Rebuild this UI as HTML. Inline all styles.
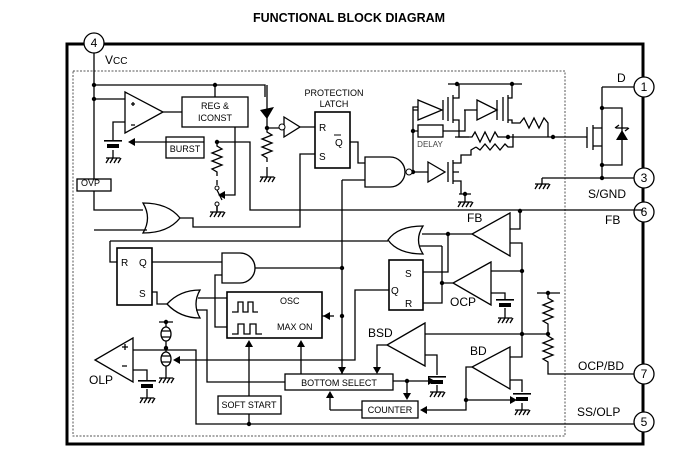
<!DOCTYPE html>
<html><head><meta charset="utf-8"><style>
html,body{margin:0;padding:0;background:#fff;}
svg{display:block;font-family:"Liberation Sans",sans-serif;}
</style></head><body>
<svg width="697" height="455" viewBox="0 0 697 455" xmlns="http://www.w3.org/2000/svg">
<defs>
<g id="gnd" fill="none" stroke="#000" stroke-width="1.3"><path d="M-7 0H7M-4 0l-3 5M0 0l-3 5M4 0l-3 5M8 0l-3 5"/></g>
<g id="cap"><rect x="-9" y="-5" width="18" height="1.6" fill="#000"/><rect x="-6" y="-1" width="12" height="4" fill="#000"/></g>
</defs>
<text x="349" y="22" text-anchor="middle" font-size="12.5" font-weight="bold">FUNCTIONAL BLOCK DIAGRAM</text>
<g fill="none" stroke="#000">
<!-- outer box -->
<rect x="67" y="44" width="576" height="400" stroke-width="3"/>
<rect x="73" y="71" width="492" height="365" stroke-width="1" stroke-dasharray="2,1.5" stroke="#555"/>
</g>
<g fill="#fff" stroke="#000" stroke-width="1.3">
<circle cx="94" cy="43" r="10"/><circle cx="644" cy="87" r="10"/><circle cx="644" cy="178" r="10"/>
<circle cx="644" cy="212" r="10"/><circle cx="644" cy="374" r="10"/><circle cx="644" cy="422" r="10"/>
</g>
<g font-size="12" text-anchor="middle">
<text x="94" y="47">4</text><text x="644" y="91">1</text><text x="644" y="182">3</text>
<text x="644" y="216">6</text><text x="644" y="378">7</text><text x="644" y="426">5</text>
</g>
<g font-size="12">
<text x="105" y="64">V<tspan font-size="10">CC</tspan></text>
<text x="617" y="82">D</text><text x="588" y="198">S/GND</text><text x="605" y="224">FB</text>
<text x="578" y="370">OCP/BD</text><text x="577" y="416">SS/OLP</text>
<text x="81" y="186" font-size="9">OVP</text>
<text x="89" y="384">OLP</text><text x="450" y="306">OCP</text><text x="467" y="222">FB</text>
<text x="368" y="337">BSD</text><text x="470" y="355">BD</text>
</g>
<g font-size="9" text-anchor="middle">
<text x="334" y="96">PROTECTION</text><text x="334" y="107">LATCH</text>
<text x="215" y="109">REG &amp;</text><text x="215" y="121">ICONST</text>
<text x="185" y="152">BURST</text>
<text x="430" y="147" fill="#444" font-size="8">DELAY</text>
<text x="339" y="386">BOTTOM SELECT</text>
<text x="390" y="413">COUNTER</text>
<text x="249" y="408">SOFT START</text>
</g>
<g font-size="10">
<text x="319" y="131">R</text><text x="335" y="146">Q</text><text x="319" y="160">S</text>
<text x="121" y="266">R</text><text x="139" y="266">Q</text><text x="139" y="297">S</text>
<text x="405" y="277">S</text><text x="391" y="294">Q</text><text x="405" y="307">R</text>
<text x="280" y="304" font-size="9">OSC</text><text x="277" y="330" font-size="9">MAX ON</text>
</g>
<path d="M334 135h7" stroke="#000"/>
<g fill="none" stroke="#000" stroke-width="1.3">
<!-- boxes -->
<rect x="182" y="97" width="66" height="30"/>
<rect x="166" y="137" width="38" height="21"/>
<rect x="77" y="179" width="34" height="12"/>
<rect x="315" y="112" width="35" height="56" stroke-width="1.6"/>
<rect x="418" y="125" width="25" height="12"/>
<rect x="117" y="248" width="35" height="57" stroke-width="1.6"/>
<rect x="389" y="260" width="34" height="50" stroke-width="1.6"/>
<rect x="227" y="292" width="95" height="46" stroke-width="1.6"/>
<rect x="285" y="374" width="108" height="16"/>
<rect x="362" y="401" width="56" height="17"/>
<rect x="218" y="396" width="63" height="18"/>
<!-- osc waveforms -->
<path d="M232 312h6v-10h5v10h5v-10h5v10h5"/>
<path d="M232 334h6v-10h6v10h6v-10h6v10h6"/>
<!-- Vcc rails -->
<path d="M94 53V179M94 191V210H143M94 85H265V97M94 99H125M215 85V97"/>
<!-- main opamp -->
<path d="M125 92L163 112L125 133Z"/>
<path d="M163 112H182M113 133V122H125M113 133V140"/>
<path d="M131 104h4M133 102v4M131 125h4"/>
<path d="M204 142H132M217 142H250V210H643" />
<path d="M235 127V195H222"/>
<path d="M217 142v4l5 3l-10 4l10 4l-10 4l10 4l-10 4l5 3v4"/>
<path d="M217 180v5M217 190l5 10M217 206v5"/>
<!-- zener -->
<path d="M267 85V128M267 128v4l5 3l-10 4l10 4l-10 4l10 4l-10 4l5 3v4M267 167V177"/>
<path d="M267 128H279M300 127H315"/>
<path d="M284 117L300 127L284 137Z"/>
<!-- OR1 -->
<path d="M143 203Q168 203 180 218Q168 233 143 233Q152 218 143 203Z"/>
<path d="M94 230H147M180 218H193V227H300V154H315"/>
<!-- Qbar to NAND -->
<path d="M350 142H358V163H365M342 180H365M342 180V374"/>
<path d="M365 157H390A15 15 0 0 1 390 187H365Z"/>
<path d="M412 172H428M413 172V107H418M413 131H418"/>
<path d="M428 162L445 172L428 182Z"/>
<path d="M448 162v20M453 160v24M453 172h6M453 163h8v-8h10v-5l5-3M453 181h8v13M459 194h12"/>
<path d="M476 147l4 3l5-6l5 6l5-6l5 6l5-6l3 3h5v-13"/>
<!-- upper drivers -->
<path d="M418 100L442 110L418 120Z M443 100v20M413 110H418M448 84H522"/>
<path d="M448 97v24M453 95v28M453 98h6v-14M453 120h6v17h10"/>
<path d="M477 100L497 110L477 120Z M497 100v20M464 110H477M443 131H465V110"/>
<path d="M503 97v24M508 95v28M508 98h4v-14M508 120h4v3h8l4 -5l5 10l5-10l5 10l5-10l4 5v14"/>
<path d="M455 137H472l3-5l5 10l5-10l5 10l5-10l3 5H565"/>
<path d="M565 137H587M587 127v21M593 125v25M593 128h9v-20M593 146h9v19M602 87H634M602 87V178M602 108H622V165H602M542 178H634M542 178V184"/>
<path d="M615 128l4 -3M629 128l-4 3"/>
<path d="M616 128h12"/>
<!-- lower logic -->
<path d="M110 241H388M110 241V262H117"/>
<path d="M423 226Q398 226 388 240Q398 254 423 254Q414 240 423 226Z"/>
<path d="M472 234H422M448 234V272H423M442 246H419M442 246V303H423M453 283H442"/>
<path d="M510 213L472 234L510 256Z"/>
<path d="M510 229H520V211M510 243H522V357H510"/>
<path d="M491 262L453 283L491 305Z"/>
<path d="M491 271H522M491 293H505V299M505 308V318"/>
<!-- RS1, AND, OR3 -->
<path d="M152 262H222M222 253H240A15 15 0 0 1 240 283H222Z"/>
<path d="M255 268H342M222 275H215V327H227"/>
<path d="M152 292H157V304H167"/>
<path d="M200 290Q180 290 167 304Q180 318 200 318Q192 304 200 290Z"/>
<path d="M198 298H227M196 310H207V382H285"/>
<path d="M322 316H334"/>
<!-- RS2 Q -->
<path d="M389 290H355V360H180"/>
<!-- OLP -->
<path d="M133 338L95 360L133 382Z"/>
<path d="M133 350H196V424H634M133 370H147V380M147 389V398"/>
<path d="M122 347h6M125 344v6M122 366h5"/>
<path d="M166 322V327M159 322h14M166 341V352M166 366V378"/>
<ellipse cx="166" cy="334" rx="5" ry="7"/><ellipse cx="166" cy="359" rx="5" ry="7"/>
<path d="M162 331h8M162 337h8M162 356h8M162 362h8"/>
<!-- BSD, BD, divider -->
<path d="M548 293V298l5 3l-10 4l10 4l-10 4l10 4l-10 4l5 3v12l5 3l-10 4l10 4l-10 4l10 4l-10 4l5 3V374H634M537 293H560"/>
<path d="M425 323L387 345L425 366Z M425 334H548M425 355H437V375M437 385V392"/>
<path d="M387 345H377V370"/>
<path d="M510 347L472 367L510 389Z M510 380H522V392M522 403V410"/>
<path d="M472 367H466V410H425M466 400H510"/>
<path d="M393 381H428M407 381V396M330 410H362M330 410V396"/>
<path d="M249 396V345M249 414V424M301 374V345M342 374V372"/>
</g>
<!-- arrowheads -->
<g fill="#000">
<path d="M128 142l7-4v8z"/><path d="M218 195l7-4v8z"/>
<path d="M173 360l7-4v8z"/><path d="M323 316l7-4v8z"/>
<path d="M249 340l-4 7h8z"/><path d="M301 340l-4 7h8z"/>
<path d="M330 391l-4 7h8z"/><path d="M342 374l-4-7h8z"/><path d="M377 374l-4-7h8z"/>
<path d="M407 400l-4-7h8z"/><path d="M420 410l7-4v8z"/>
<path d="M435 381l-7-4v8z"/><path d="M517 400l-7-4v8z"/>
<path d="M260 110l14-3l-7 12z"/><path d="M622 130l-6 10h12z"/>
</g>
<g fill="#000">
<circle cx="94" cy="85" r="2.2"/><circle cx="94" cy="99" r="2.2"/><circle cx="215" cy="85" r="2.2"/>
<circle cx="217" cy="142" r="2.2"/><circle cx="267" cy="128" r="2.2"/>
<circle cx="413" cy="172" r="2.2"/><circle cx="413" cy="131" r="2.2"/>
<circle cx="457" cy="84" r="2.2"/><circle cx="512" cy="84" r="2.2"/>
<circle cx="508" cy="137" r="2.2"/><circle cx="553" cy="137" r="2.2"/>
<circle cx="602" cy="108" r="2.2"/><circle cx="602" cy="165" r="2.2"/><circle cx="602" cy="178" r="2.2"/>
<circle cx="465" cy="194" r="2.2"/><circle cx="520" cy="211" r="2.2"/>
<circle cx="448" cy="234" r="2.2"/><circle cx="442" cy="283" r="2.2"/>
<circle cx="522" cy="271" r="2.2"/><circle cx="522" cy="334" r="2.2"/><circle cx="548" cy="334" r="2.2"/><circle cx="548" cy="293" r="2.2"/>
<circle cx="342" cy="268" r="2.2"/><circle cx="342" cy="316" r="2.2"/>
<circle cx="166" cy="322" r="2.2"/><circle cx="166" cy="348" r="2.2"/>
<circle cx="249" cy="424" r="2.2"/><circle cx="407" cy="381" r="2.2"/><circle cx="466" cy="400" r="2.2"/>
</g>
<g fill="#fff" stroke="#000" stroke-width="1">
<circle cx="217" cy="188" r="2"/><circle cx="217" cy="204" r="2"/><circle cx="282" cy="127" r="3"/><circle cx="409" cy="172" r="3"/>
</g>
<use href="#cap" x="113" y="145"/><use href="#cap" x="505" y="304"/><use href="#cap" x="147" y="385"/>
<use href="#cap" x="437" y="381"/><use href="#cap" x="522" y="398"/>
<use href="#gnd" x="113" y="158"/><use href="#gnd" x="217" y="212"/><use href="#gnd" x="267" y="177"/>
<use href="#gnd" x="465" y="202"/><use href="#gnd" x="542" y="184"/><use href="#gnd" x="505" y="318"/>
<use href="#gnd" x="166" y="378"/><use href="#gnd" x="147" y="398"/><use href="#gnd" x="437" y="392"/><use href="#gnd" x="522" y="410"/>
<path d="M465 194v8M113 150v8M217 206v6" stroke="#000" stroke-width="1.3"/>
</svg>
</body></html>
